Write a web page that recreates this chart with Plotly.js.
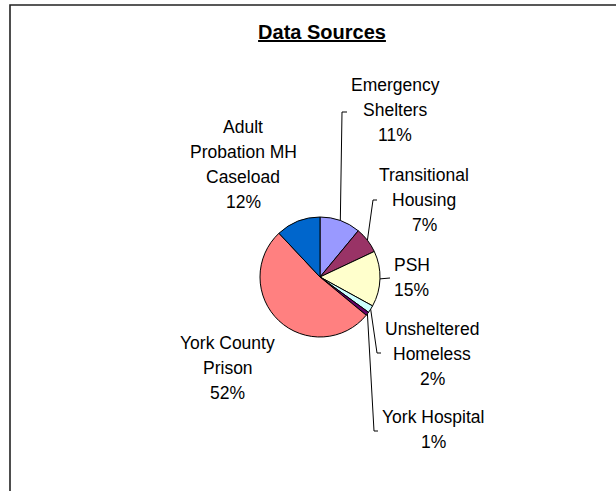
<!DOCTYPE html>
<html><head><meta charset="utf-8">
<script src="https://cdn.plot.ly/plotly-3.0.1.min.js"></script>
<style>html,body{margin:0;padding:0;background:#fff;}#chart{width:616px;height:491px;}</style>
</head><body><div id="chart"></div>
<script>
// ---- data ----
const categories = ['Emergency Shelters', 'Transitional Housing', 'PSH', 'Unsheltered Homeless', 'York Hospital', 'York County Prison', 'Adult Probation MH Caseload'];
const labelLines = [['Emergency', 'Shelters'], ['Transitional', 'Housing'], ['PSH'], ['Unsheltered', 'Homeless'], ['York Hospital'], ['York County', 'Prison'], ['Adult', 'Probation MH', 'Caseload']];
const percents = [11, 7, 15, 2, 1, 52, 12];
const chartTitle = 'Data Sources';

// ---- style / layout ----
const colors = ['#9999FF', '#993366', '#FFFFCC', '#CCFFFF', '#660066', '#FF8080', '#0066CC'];
const W = 616, H = 491;
const CX = 320, CY = 277, R = 60;
const FONT = '"Liberation Sans", Arial, sans-serif';
const LINE_GAP = 25;
const labelPos = [
  {x: 395, y: 85, elbow: [342, 112], tick: 5},
  {x: 424, y: 174.5, elbow: [373, 200], tick: 4},
  {x: 412, y: 265, elbow: [390, 278], tick: 0},
  {x: 432, y: 328.5, elbow: [377, 353], tick: 4},
  {x: 433, y: 416.5, elbow: [374, 431], tick: 4},
  {x: 227.5, y: 342.5, elbow: null},
  {x: 243, y: 126.5, elbow: null}
];
const X = px => px / W;
const Y = py => 1 - py / H;

const total = percents.reduce((a, b) => a + b, 0);
const annotations = [];
const shapes = [];
let cum = 0;
percents.forEach((v, i) => {
  const mid = (cum + v / 2) / total * 2 * Math.PI;
  cum += v;
  const pos = labelPos[i];
  const lines = labelLines[i].concat([Math.round(v / total * 100) + '%']);
  lines.forEach((t, k) => {
    annotations.push({
      text: t, xref: 'paper', yref: 'paper', x: X(pos.x), y: Y(pos.y + k * LINE_GAP),
      xanchor: 'center', yanchor: 'middle', showarrow: false,
      font: {family: FONT, size: 17.5, color: '#000'}
    });
  });
  if (pos.elbow) {
    const sx = CX + R * Math.sin(mid), sy = CY - R * Math.cos(mid);
    let p = `M ${X(sx)} ${Y(sy)} L ${X(pos.elbow[0])} ${Y(pos.elbow[1])}`;
    if (pos.tick) p += ` L ${X(pos.elbow[0] + pos.tick)} ${Y(pos.elbow[1])}`;
    shapes.push({type: 'path', xref: 'paper', yref: 'paper', path: p, line: {color: '#000', width: 1}});
  }
});
// outer chart frame (top and left edges visible)
shapes.push({type: 'path', xref: 'paper', yref: 'paper',
  path: `M ${X(10)} ${Y(H + 5)} L ${X(10)} ${Y(5)} L ${X(W + 5)} ${Y(5)}`,
  line: {color: '#222', width: 1.6}});

const trace = {
  type: 'pie', labels: categories, values: percents, sort: false,
  direction: 'clockwise', rotation: 0, textinfo: 'none', hoverinfo: 'skip',
  showlegend: false,
  marker: {colors: colors, line: {color: '#000', width: 1}},
  domain: {x: [X(CX - R), X(CX + R)], y: [Y(CY + R), Y(CY - R)]}
};

const layout = {
  width: W, height: H, margin: {l: 0, r: 0, t: 0, b: 0},
  paper_bgcolor: '#fff', plot_bgcolor: '#fff', showlegend: false,
  title: {text: '<b><u>' + chartTitle + '</u></b>', x: X(322), xanchor: 'center', y: Y(32), yanchor: 'middle',
    font: {family: FONT, size: 20, color: '#000'}},
  annotations: annotations, shapes: shapes
};
Plotly.newPlot('chart', [trace], layout, {displayModeBar: false, staticPlot: true});
</script></body></html>
